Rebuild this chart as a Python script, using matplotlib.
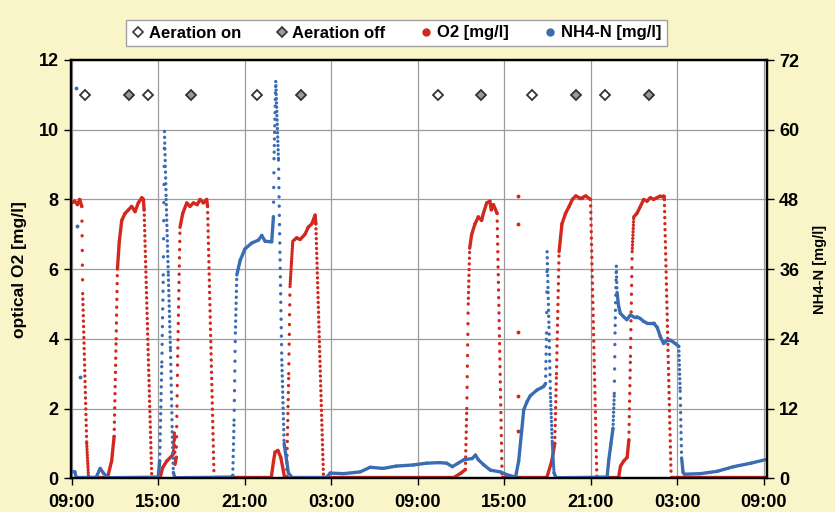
import numpy as np
import matplotlib
matplotlib.use('Agg')
import matplotlib.pyplot as plt
from matplotlib.collections import LineCollection
from matplotlib.lines import Line2D

plt.rcParams['font.family'] = ['Liberation Sans', 'DejaVu Sans']
plt.rcParams['font.weight'] = 'bold'
plt.rcParams['axes.labelweight'] = 'bold'
plt.rcParams['lines.scale_dashes'] = False

# --- Messwerte, Stunden ab 09:00 Tag 1 ---
o2_hours = [0.0, 0.2, 0.4, 0.55, 0.70, 0.76, 1.04, 1.16,
            2.5, 2.77, 2.94, 3.08, 3.17, 3.3, 3.47, 3.7, 3.93, 4.16, 4.39, 4.62, 4.86, 4.97, 5.02, 5.55,
            6.15, 6.3, 6.6, 6.85, 7.05, 7.12, 7.17, 7.25, 7.35, 7.51, 7.7, 7.98, 8.2, 8.44, 8.7, 8.9, 9.13, 9.36, 9.42, 9.87,
            13.85, 14.0, 14.1, 14.3, 14.5, 14.75, 14.9, 15.05, 15.14, 15.33, 15.6, 15.84, 16.18, 16.4, 16.65, 16.88, 16.93, 17.46,
            26.6, 27.0, 27.3, 27.4, 27.5, 27.6, 27.74, 27.97, 28.2, 28.43, 28.55, 28.78, 29.0, 29.1, 29.25, 29.5, 29.85,
            32.97, 33.3, 33.5, 33.62, 33.8, 34.0, 34.25, 34.5, 34.72, 34.96, 35.2, 35.4, 35.65, 35.98, 36.42,
            37.94, 38.06, 38.29, 38.52, 38.64, 38.75, 38.87, 38.98, 39.2, 39.44, 39.67, 39.9, 40.13, 40.36, 40.59, 40.82, 41.05, 41.1, 41.57,
            48.2]
o2_values = [7.9, 7.95, 7.85, 8.0, 7.8, 5.3, 1.0, 0.05,
             0.05, 0.5, 1.2, 4.0, 6.0, 6.8, 7.4, 7.6, 7.7, 7.8, 7.65, 7.9, 8.05, 8.0, 7.7, 0.05,
             0.05, 0.3, 0.5, 0.6, 0.7, 1.3, 0.4, 0.6, 3.5, 7.2, 7.6, 7.9, 7.8, 7.9, 7.85, 8.0, 7.9, 8.0, 7.8, 0.05,
             0.05, 0.5, 0.75, 0.8, 0.6, 0.05, 0.05, 3.0, 5.5, 6.8, 6.9, 6.85, 7.0, 7.2, 7.3, 7.55, 7.3, 0.05,
             0.05, 0.15, 0.25, 2.0, 5.0, 6.6, 7.0, 7.3, 7.5, 7.4, 7.6, 7.9, 7.95, 7.7, 7.85, 7.6, 0.05,
             0.05, 0.5, 1.0, 3.0, 6.5, 7.3, 7.6, 7.8, 8.0, 8.1, 8.05, 8.05, 8.1, 8.0, 0.05,
             0.05, 0.35, 0.5, 0.6, 1.1, 3.5, 6.5, 7.5, 7.6, 7.8, 8.0, 7.95, 8.05, 8.0, 8.05, 8.1, 8.1, 8.0, 0.05,
             0.05]

nh4_hours = [0.0, 0.22, 0.3, 1.7, 1.97, 2.2, 2.5,
             6.0, 6.1, 6.25, 6.35, 6.43, 6.55, 6.7, 6.85, 6.97, 7.05, 7.15,
             11.1, 11.17, 11.26, 11.35, 11.45, 11.68, 12.02, 12.49, 12.95, 13.18, 13.41, 13.87, 13.99, 14.03, 14.15,
             14.34, 14.45, 14.57, 14.73, 15.03, 15.26,
             17.7, 17.92, 18.85, 20.0, 20.7, 21.6, 22.5, 23.7, 24.6, 25.5, 26.0, 26.4, 26.8, 27.2, 27.77, 28.0, 28.2,
             28.58, 29.04, 29.73, 30.2, 30.66, 30.77,
             31.0, 31.2, 31.35, 31.58, 31.8, 32.27, 32.73, 32.86, 32.93, 32.97, 33.04, 33.1, 33.2, 33.33, 33.45, 33.6,
             37.13, 37.25, 37.4, 37.54, 37.63, 37.68, 37.77, 37.82, 37.93, 38.05, 38.28, 38.5, 38.74, 38.97, 39.2,
             39.43, 39.67, 39.9, 40.36, 40.6, 40.82, 41.05, 41.28, 41.51, 41.86, 42.1, 42.2, 42.25, 42.3, 42.4, 42.5,
             43.6, 44.76, 45.9, 47.1, 48.1]
nh4_values = [1.2, 1.1, 0.2, 0.2, 1.7, 0.9, 0.1,
              0.2, 3.0, 20.0, 35.0, 59.7, 48.0, 35.0, 22.0, 8.0, 1.0, 0.1,
              0.2, 0.5, 10.0, 25.0, 35.0, 37.5, 39.5, 40.5, 41.0, 41.8, 40.8, 40.7, 45.0, 55.0, 68.3,
              54.8, 37.6, 20.4, 6.0, 0.9, 0.2,
              0.2, 0.9, 0.8, 1.1, 1.9, 1.7, 2.1, 2.3, 2.6, 2.7, 2.6, 2.0, 2.6, 3.2, 3.4, 4.0, 3.2,
              2.3, 1.4, 1.1, 0.6, 0.3, 0.0,
              3.0, 8.0, 11.8, 13.2, 14.2, 15.2, 15.8, 16.3, 25.0, 39.0, 32.0, 26.0, 14.6, 6.0, 0.9, 0.1,
              0.2, 3.2, 6.0, 8.6, 14.6, 25.0, 36.5, 32.0, 29.6, 28.4, 27.8, 27.3, 28.1, 27.8, 27.8,
              27.5, 27.0, 26.7, 26.7, 26.0, 24.4, 23.2, 23.8, 23.8, 23.2, 22.7, 15.0, 9.0, 3.5, 1.0, 0.7,
              0.8, 1.2, 2.0, 2.6, 3.2]

# einzelne Ausreisser
o2_stray_hours = [30.95, 30.95, 30.95, 30.95, 30.95]
o2_stray_values = [8.1, 7.3, 4.2, 2.35, 1.35]
nh4_stray_hours = [0.3, 0.35, 0.6]
nh4_stray_values = [67.2, 43.5, 17.5]

aeration_on_hours = [0.95, 5.27, 12.87, 25.4, 31.93, 37.02]
aeration_off_hours = [3.97, 8.25, 15.88, 28.42, 34.94, 40.02]
marker_level = 11.0

tick_hours = [0, 6, 12, 18, 24, 30, 36, 42, 48]
tick_labels = ['09:00', '15:00', '21:00', '03:00', '09:00', '15:00', '21:00', '03:00', '09:00']

RED = '#d2281e'
BLUE = '#3a6cb4'
BG = '#f9f5c9'
SAMPLE_H = 0.01  # Logger-Intervall ca. 36 s


def draw_logger(ax, hours, values, color):
    # dichte Punkte wirken als Linie, steile Flanken als Punktreihe
    pts = ax.transData.transform(np.column_stack([hours, values]))
    segs, styles = [], []
    for i in range(len(hours) - 1):
        n = max((hours[i + 1] - hours[i]) / SAMPLE_H, 1.0)
        step = np.hypot(*(pts[i + 1] - pts[i])) / n
        segs.append([(hours[i], values[i]), (hours[i + 1], values[i + 1])])
        if step < 2.2:
            styles.append('solid')
        else:
            styles.append((0, (0.1, step * 0.72)))
    lc = LineCollection(segs, colors=color, linewidths=2.4, linestyles=styles, capstyle='round')
    ax.add_collection(lc)


fig = plt.figure(figsize=(8.35, 5.12), dpi=100)
fig.patch.set_facecolor(BG)
ax = fig.add_axes([71 / 835, 1 - 478.3 / 512, (766.7 - 71) / 835, (478.3 - 60) / 512])
ax2 = ax.twinx()

ax.set_xlim(-0.05, 48.2)
ax.set_ylim(0, 12)
ax2.set_ylim(0, 72)
ax.set_xticks(tick_hours)
ax.set_xticklabels(tick_labels)
ax.set_yticks(range(0, 13, 2))
ax2.set_yticks(range(0, 73, 12))
ax.grid(color='#9c9c9c', lw=0.9)
ax.set_axisbelow(True)

draw_logger(ax, o2_hours, o2_values, RED)
ax.plot(o2_stray_hours, o2_stray_values, 'o', color=RED, ms=2.8, mew=0)
draw_logger(ax2, nh4_hours, nh4_values, BLUE)
ax2.plot(nh4_stray_hours, nh4_stray_values, 'o', color=BLUE, ms=2.8, mew=0)

ax2.plot(aeration_on_hours, [marker_level * 6] * len(aeration_on_hours), 'D', ms=5,
         mfc='white', mec='#333333', mew=1.3)
ax2.plot(aeration_off_hours, [marker_level * 6] * len(aeration_off_hours), 'D', ms=5,
         mfc='#9a9a9a', mec='#333333', mew=1.3)

for a in (ax, ax2):
    for s in a.spines.values():
        s.set_linewidth(1.6)
        s.set_color('black')
    a.tick_params(direction='out', length=5, width=1, labelsize=13, pad=4)
ax.tick_params(axis='x', pad=6)

ax.set_ylabel('optical O2 [mg/l]', fontsize=12.5, labelpad=8)
ax2.set_ylabel('NH4-N [mg/l]', fontsize=10.5, labelpad=10)

handles = [
    Line2D([], [], ls='none', marker='D', ms=5, mfc='white', mec='#333333', mew=1.2),
    Line2D([], [], ls='none', marker='D', ms=5, mfc='#9a9a9a', mec='#333333', mew=1.2),
    Line2D([], [], ls='none', marker='o', ms=5, color=RED),
    Line2D([], [], ls='none', marker='o', ms=5, color=BLUE),
]
labels = ['Aeration on', 'Aeration off', 'O2 [mg/l]', 'NH4-N [mg/l]']
leg = fig.legend(handles, labels, loc='center', bbox_to_anchor=(396.5 / 835, 1 - 33 / 512), ncol=4,
                 fontsize=12, frameon=True, fancybox=False, edgecolor='#a0a0a0', framealpha=1,
                 handlelength=0.7, handletextpad=0.3, columnspacing=2.1, borderpad=0.35)

fig.savefig('out.png', dpi=100, facecolor=BG)
